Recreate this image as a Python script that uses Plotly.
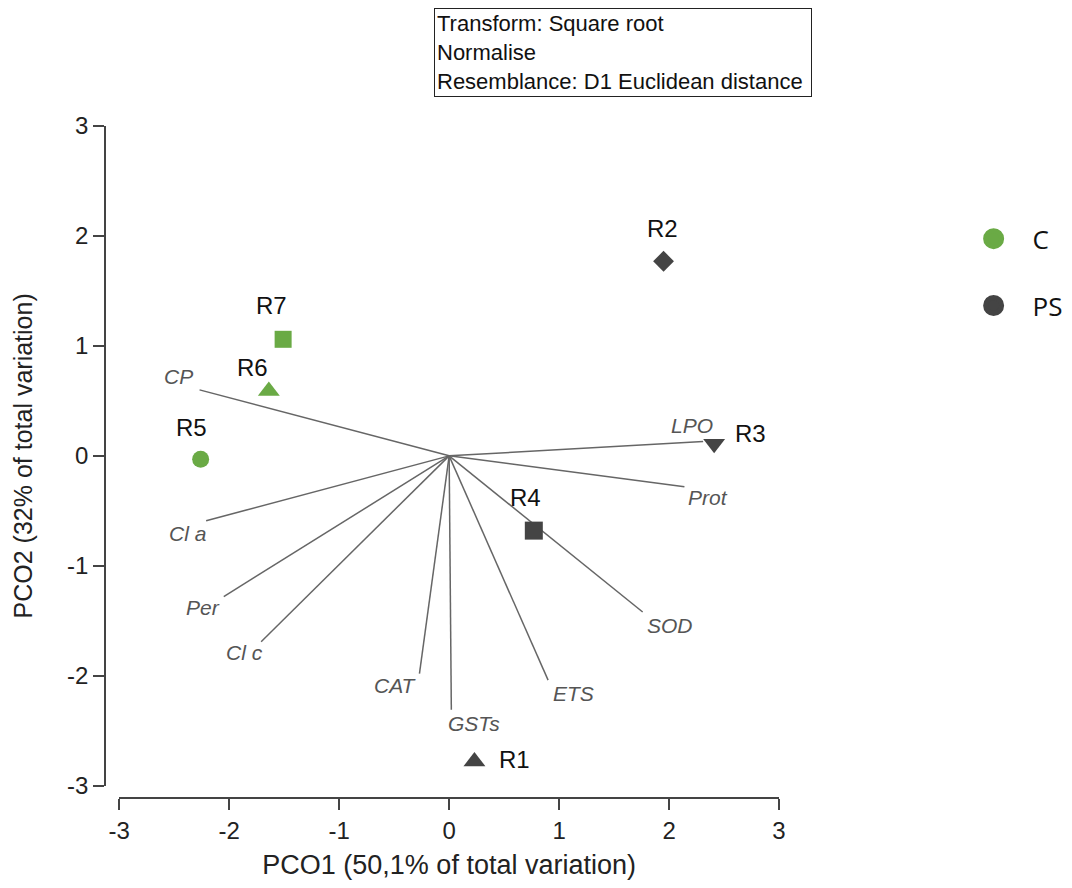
import plotly.graph_objects as go

# ---------------- data ----------------
sample_names = ["R1", "R2", "R3", "R4", "R5", "R6", "R7"]
sample_groups = ["PS", "PS", "PS", "PS", "C", "C", "C"]
pco1 = [0.23, 1.95, 2.41, 0.77, -2.26, -1.64, -1.51]
pco2 = [-2.78, 1.77, 0.11, -0.68, -0.03, 0.59, 1.06]

var_names = ["CP", "Cl a", "Per", "Cl c", "CAT", "GSTs", "ETS", "SOD", "Prot", "LPO"]
vec_x = [-2.27, -2.21, -2.05, -1.71, -0.27, 0.02, 0.90, 1.76, 2.14, 2.31]
vec_y = [0.60, -0.59, -1.28, -1.69, -1.98, -2.31, -2.04, -1.42, -0.28, 0.13]

group_names = ["C", "PS"]
tick_vals = [-3, -2, -1, 0, 1, 2, 3]
tick_text = ["-3", "-2", "-1", "0", "1", "2", "3"]
x_title = "PCO1 (50,1% of total variation)"
y_title = "PCO2 (32% of total variation)"
info_lines = ["Transform: Square root", "Normalise", "Resemblance: D1 Euclidean distance"]

# ---------------- styles ----------------
group_colors = {"C": "#6aaa45", "PS": "#444444"}
sample_symbols = {"R1": "triangle-up", "R2": "diamond", "R3": "triangle-down",
                  "R4": "square", "R5": "circle", "R6": "triangle-up", "R7": "square"}
sample_sizes = {"R1": 19, "R2": 16, "R3": 19, "R4": 18, "R5": 17, "R6": 19, "R7": 17}
sample_label_shift = {"R1": (40, 2), "R2": (-1, 33), "R3": (36, 10), "R4": (-8, 33),
                      "R5": (-9, 32), "R6": (-16, 23), "R7": (-12, 34)}
var_label_shift = {"CP": (-21, 13), "Cl a": (-19, -13), "Per": (-21, -11), "Cl c": (-17, -11),
                   "CAT": (-24, -12), "GSTs": (23, -14), "ETS": (25, -13), "SOD": (27, -14),
                   "Prot": (24, -11), "LPO": (-11, 16)}

FONT = "Liberation Sans, Arial, sans-serif"
AXIS_COLOR = "#444444"

# page layout (screen pixels; the page body adds an 8px offset)
OFF = 8
FIG_W, FIG_H = 1056, 872
P_LEFT, P_RIGHT, P_TOP, P_BOTTOM = 105, 779.3, 125.7, 798     # paper edges on screen
L = P_LEFT - OFF
T = P_TOP - OFF
R = FIG_W - (P_RIGHT - OFF)
B = FIG_H - (P_BOTTOM - OFF)
paper_w = P_RIGHT - P_LEFT
paper_h = P_BOTTOM - P_TOP
x_dom0 = (119.3 - P_LEFT) / paper_w
y_dom0 = (P_BOTTOM - 785.7) / paper_h


def px(xs):
    return (xs - P_LEFT) / paper_w


def py(ys):
    return (P_BOTTOM - ys) / paper_h


fig = go.Figure()

# vectors
lx, ly = [], []
for ex, ey in zip(vec_x, vec_y):
    lx += [0, ex, None]
    ly += [0, ey, None]
fig.add_trace(go.Scatter(x=lx, y=ly, mode="lines",
                         line=dict(color="#666666", width=1.5),
                         showlegend=False, hoverinfo="skip"))

# samples
fig.add_trace(go.Scatter(
    x=pco1, y=pco2, mode="markers", showlegend=False,
    text=sample_names,
    marker=dict(symbol=[sample_symbols[n] for n in sample_names],
                size=[sample_sizes[n] for n in sample_names],
                color=[group_colors[g] for g in sample_groups],
                opacity=1,
                line=dict(width=0))))

# legend entries
for g in group_names:
    fig.add_trace(go.Scatter(x=[None], y=[None], mode="markers", name=g,
                             legendgroup=g,
                             marker=dict(symbol="circle", size=16, color=group_colors[g],
                                         opacity=1,
                                         line=dict(width=5, color=group_colors[g]))))

annotations = []
for n, x, y in zip(sample_names, pco1, pco2):
    dx, dy = sample_label_shift[n]
    annotations.append(dict(x=x, y=y, xref="x", yref="y", text=n, showarrow=False,
                            xshift=dx, yshift=dy, xanchor="center", yanchor="middle",
                            font=dict(family=FONT, size=24, color="#111111")))
for n, x, y in zip(var_names, vec_x, vec_y):
    dx, dy = var_label_shift[n]
    annotations.append(dict(x=x, y=y, xref="x", yref="y", text="<i>%s</i>" % n,
                            showarrow=False, xshift=dx, yshift=dy,
                            xanchor="center", yanchor="middle",
                            font=dict(family=FONT, size=21, color="#555555")))
annotations.append(dict(x=px(623.7), y=py(51.7),
                        xref="paper", yref="paper", showarrow=False,
                        text="<br>".join(info_lines), align="left",
                        xanchor="center", yanchor="middle",
                        width=372, height=83, borderpad=2, borderwidth=1,
                        bordercolor="#222222",
                        font=dict(family=FONT, size=22, color="#111111")))

axis_common = dict(range=[-3, 3], tickvals=tick_vals, ticktext=tick_text,
                   showgrid=False, zeroline=False,
                   linecolor=AXIS_COLOR, linewidth=1.5, tickcolor=AXIS_COLOR,
                   tickwidth=1.5, fixedrange=True)

fig.update_layout(
    width=FIG_W, height=FIG_H,
    margin=dict(l=L, r=R, t=T, b=B, autoexpand=False),
    paper_bgcolor="white", plot_bgcolor="white",
    font=dict(family=FONT, color="#222222"),
    xaxis=dict(domain=[x_dom0, 1], anchor="free", position=0, showline=True,
               ticks="outside", ticklen=11,
               tickfont=dict(size=24, color="#222222"),
               title=dict(text=x_title, font=dict(size=27, color="#222222"), standoff=24),
               **axis_common),
    yaxis=dict(domain=[y_dom0, 1], anchor="free", position=0, showline=True,
               ticks="outside", ticklen=11,
               tickfont=dict(size=24, color="#222222"),
               title=dict(text=y_title, font=dict(size=25, color="#222222"), standoff=26),
               **axis_common),
    xaxis2=dict(domain=[x_dom0, 1], anchor="free", position=0, overlaying="x",
                showline=False, ticks="inside", ticklen=11, showticklabels=False,
                **axis_common),
    yaxis2=dict(domain=[y_dom0, 1], anchor="free", position=0, overlaying="y",
                showline=False, ticks="inside", ticklen=11, showticklabels=False,
                **axis_common),
    legend=dict(x=px(955), y=py(215), xanchor="left", yanchor="top",
                font=dict(family="Open Sans, sans-serif", size=26, color="#111111"),
                tracegroupgap=30, itemwidth=68, bgcolor="rgba(0,0,0,0)"),
    annotations=annotations,
    showlegend=True,
)

fig.write_html("out.html")
